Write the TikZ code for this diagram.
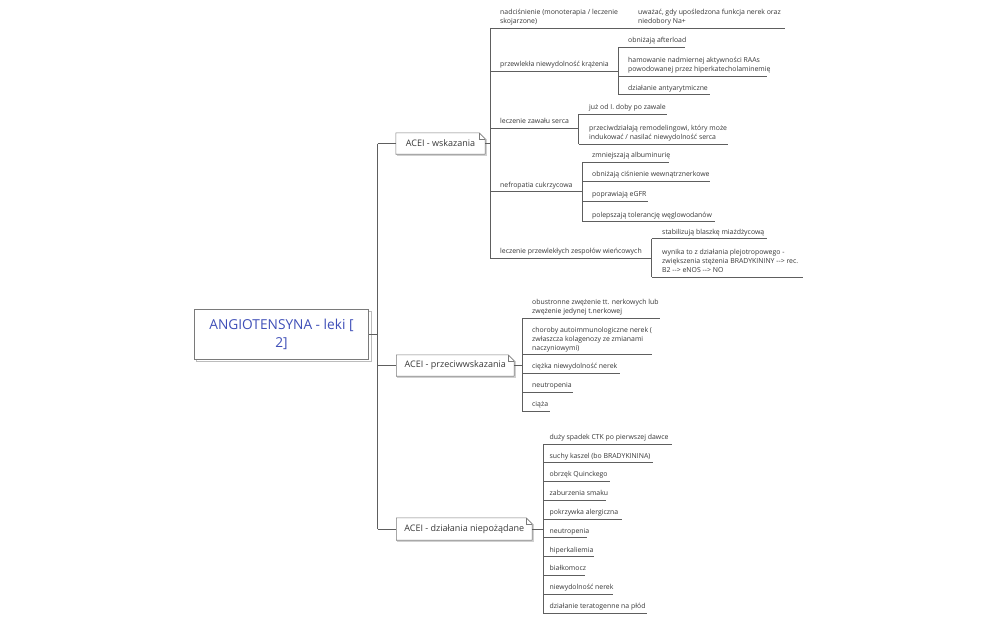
\documentclass[tikz,border=0pt]{standalone}
\usepackage{fontspec}
\setmainfont{Open Sans}[Ligatures=TeXOff]
\usetikzlibrary{calc}
\definecolor{txt}{HTML}{383838}
\definecolor{lnc}{HTML}{5E5E5E}
\definecolor{bxc}{HTML}{7A7A7A}
\definecolor{rootc}{HTML}{3F4FB8}
\newcommand\notebox[1]{%
  \draw[bxc!35, line width=1pt] ($(#1.north east)+(1,6)$) -- ($(#1.south east)+(1,1)$) -- ($(#1.south west)+(1,1)$);
  \draw[bshape] (#1.south west) -- (#1.north west) -- ($(#1.north east)+(-6,0)$) -- ($(#1.north east)+(0,6)$) -- (#1.south east) -- cycle;
  \draw[bshape] ($(#1.north east)+(-6,0)$) -- ($(#1.north east)+(-6,6)$) -- ($(#1.north east)+(0,6)$);}
\newcommand\ulline[3]{\draw[ln] (#1,#2) -- (#3,#2);}
\begin{document}
\begin{tikzpicture}[x=1pt,y=-1pt,
  ln/.style={draw=lnc, line width=0.75pt},
  lbl/.style={font=\fontsize{6.9}{8.8}\selectfont, text=txt, inner sep=0pt, anchor=base west, align=left},
  btxt/.style={font=\fontsize{9}{11}\selectfont, text=txt, inner sep=0pt},
  bshape/.style={draw=bxc, line width=0.6pt},
]
\useasboundingbox (0,0) rectangle (998,618);
\fill[white] (0,0) rectangle (998,618);

% ---- root
\draw[bxc!50, fill=white, line width=0.6pt] (196.5,311.5) rectangle (371,361.5);
\node[draw=bxc, fill=white, line width=0.6pt, minimum width=174, minimum height=50, inner sep=0pt,
      font=\fontsize{13.7}{18}\selectfont, text=rootc, align=center] (root) at (281.5,334) {ANGIOTENSYNA - leki [\\2]};

% ---- trunk
\coordinate (tt) at (377.5,143.5);
\coordinate (tb) at (377.5,529);
\draw[ln] (root.east) -- (root.east -| tt);
\draw[ln] (tt) -- (tb);

% ---- main branch boxes
\node[btxt, minimum width=89, minimum height=21] (b1) at (440.5,143.5) {ACEI - wskazania};
\node[btxt, minimum width=117.5, minimum height=21] (b2) at (455.25,365.5) {ACEI - przeciwwskazania};
\node[btxt, minimum width=135.5, minimum height=22] (b3) at (464.25,529) {ACEI - działania niepożądane};
\notebox{b1}\notebox{b2}\notebox{b3}
\draw[ln] (tt) -- (b1.west);
\draw[ln] (b2.west -| tt) -- (b2.west);
\draw[ln] (tb) -- (b3.west);

% ---- branch 1 : wskazania
\coordinate (v1t) at (490,28);
\coordinate (v1b) at (490,258);
\draw[ln] (b1.east) -- (b1.east -| v1t);
\draw[ln] (v1t) -- (v1b);

\node[lbl] (s1) at (500,23.5) {nadciśnienie (monoterapia / leczenie\\skojarzone)};
\node[lbl] (c11) at (638,23.5) {uważać, gdy upośledzona funkcja nerek oraz\\niedobory Na+};
\ulline{490}{28}{785}

\node[lbl] (s2) at (500,66.5) {przewlekła niewydolność krążenia};
\ulline{490}{71}{618}
\draw[ln] (618,47.3) -- (618,94.5);
\node[lbl] (c21) at (628,42.8) {obniżają afterload};
\ulline{618}{47.3}{685}
\node[lbl] (c22) at (628,71.5) {hamowanie nadmiernej aktywności RAAs\\powodowanej przez hiperkatecholaminemię};
\ulline{618}{76}{767}
\node[lbl] (c23) at (628,90) {działanie antyarytmiczne};
\ulline{618}{94.5}{710}

\node[lbl] (s3) at (500,123.5) {leczenie zawału serca};
\ulline{490}{128}{578.5}
\draw[ln] (578.5,114) -- (578.5,144);
\node[lbl] (c31) at (589,109.5) {już od I. doby po zawale};
\ulline{578.5}{114}{667}
\node[lbl] (c32) at (589,139.5) {przeciwdziałają remodelingowi, który może\\indukować / nasilać niewydolność serca};
\ulline{578.5}{144}{728}

\node[lbl] (s4) at (500,187) {nefropatia cukrzycowa};
\ulline{490}{191.5}{582}
\draw[ln] (582,162) -- (582,221.5);
\node[lbl] (c41) at (592,157.5) {zmniejszają albuminurię};
\ulline{582}{162}{669}
\node[lbl] (c42) at (592,176.5) {obniżają ciśnienie wewnątrznerkowe};
\ulline{582}{181}{710}
\node[lbl] (c43) at (592,196.5) {poprawiają eGFR};
\ulline{582}{201}{648}
\node[lbl] (c44) at (592,217) {polepszają tolerancję węglowodanów};
\ulline{582}{221.5}{715}

\node[lbl] (s5) at (500,253.5) {leczenie przewlekłych zespołów wieńcowych};
\ulline{490}{258}{651.5}
\draw[ln] (651.5,238.5) -- (651.5,277);
\node[lbl] (c51) at (662,234) {stabilizują blaszkę miażdżycową};
\ulline{651.5}{238.5}{767}
\node[lbl] (c52) at (662,272.5) {wynika to z działania plejotropowego -\\zwiększenia stężenia BRADYKININY --> rec.\\B2 --> eNOS --> NO};
\ulline{651.5}{277}{803}

% ---- branch 2 : przeciwwskazania
\coordinate (v2t) at (522,318);
\coordinate (v2b) at (522,411);
\draw[ln] (b2.east) -- (b2.east -| v2t);
\draw[ln] (v2t) -- (v2b);
\node[lbl] (d1) at (532,313.5) {obustronne zwężenie tt. nerkowych lub\\zwężenie jedynej t.nerkowej};
\ulline{522}{318}{660}
\node[lbl] (d2) at (532,350) {choroby autoimmunologiczne nerek (\\zwłaszcza kolagenozy ze zmianami\\naczyniowymi)};
\ulline{522}{354.5}{652}
\node[lbl] (d3) at (532,368.8) {ciężka niewydolność nerek};
\ulline{522}{373.3}{620}
\node[lbl] (d4) at (532,387.5) {neutropenia};
\ulline{522}{392}{573}
\node[lbl] (d5) at (532,406.5) {ciąża};
\ulline{522}{411}{550}

% ---- branch 3 : działania niepożądane
\coordinate (v3t) at (543,444.3);
\coordinate (v3b) at (543,613.3);
\draw[ln] (b3.east) -- (b3.east -| v3t);
\draw[ln] (v3t) -- (v3b);
\node[lbl] (e1) at (549.5,439.8) {duży spadek CTK po pierwszej dawce};
\ulline{543}{444.3}{672}
\node[lbl] (e2) at (549.5,458.2) {suchy kaszel (bo BRADYKININA)};
\ulline{543}{462.7}{653}
\node[lbl] (e3) at (549.5,476.5) {obrzęk Quinckego};
\ulline{543}{481}{610}
\node[lbl] (e4) at (549.5,495.5) {zaburzenia smaku};
\ulline{543}{500}{606}
\node[lbl] (e5) at (549.5,514.8) {pokrzywka alergiczna};
\ulline{543}{519.3}{622}
\node[lbl] (e6) at (549.5,533.2) {neutropenia};
\ulline{543}{537.7}{587}
\node[lbl] (e7) at (549.5,552.2) {hiperkaliemia};
\ulline{543}{556.7}{594}
\node[lbl] (e8) at (549.5,570.5) {białkomocz};
\ulline{543}{575}{585}
\node[lbl] (e9) at (549.5,589.8) {niewydolność nerek};
\ulline{543}{594.3}{613}
\node[lbl] (e10) at (549.5,608.8) {działanie teratogenne na płód};
\ulline{543}{613.3}{647}
\end{tikzpicture}
\end{document}
